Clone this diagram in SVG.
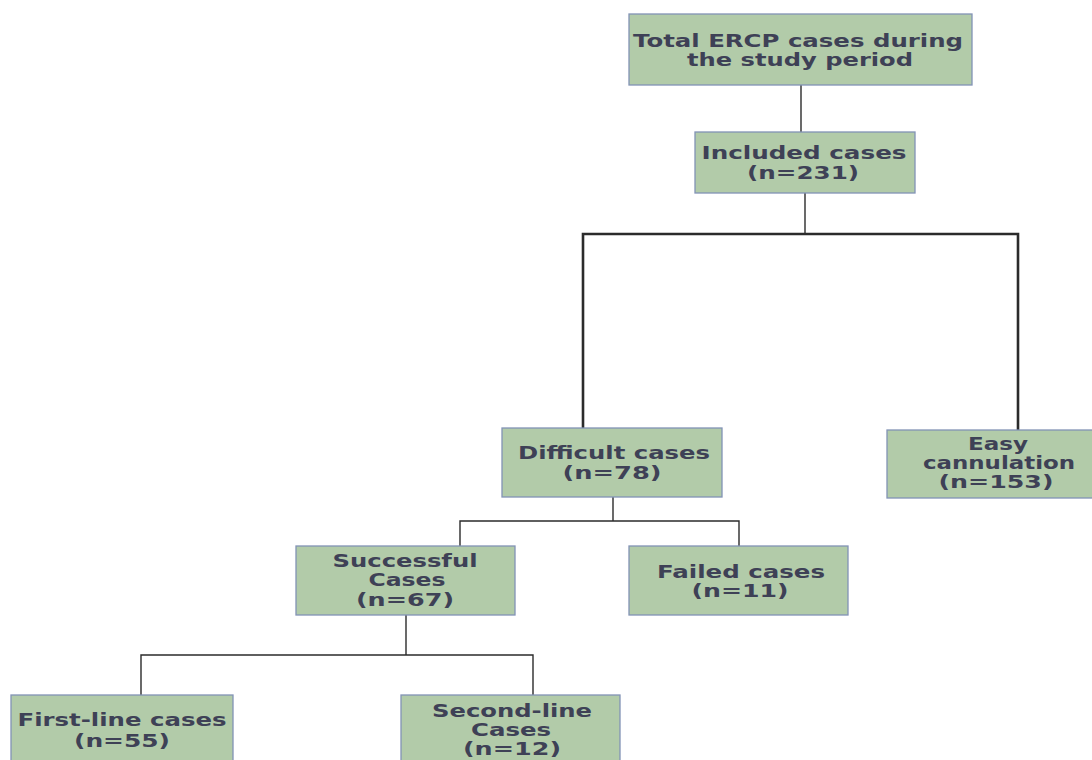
<svg xmlns="http://www.w3.org/2000/svg" width="1092" height="760" viewBox="0 0 1092 760">
<style>
.box{fill:#b2cba9;stroke:#8293b5;stroke-width:1.3}
.t{font-family:"DejaVu Sans",Verdana,sans-serif;font-weight:bold;font-size:17px;fill:#3e4156;text-anchor:middle}
.c{fill:none;stroke:#2b2b2b;stroke-width:1.4}
.ct{fill:none;stroke:#2b2b2b;stroke-width:2.6}
</style>
<rect width="1092" height="760" fill="#ffffff"/>
<g id="connectors">
<line class="c" x1="801" y1="85" x2="801" y2="132"/>
<line class="c" x1="805" y1="193" x2="805" y2="234"/>
<polyline class="ct" points="583,428 583,234 1018,234 1018,430"/>
<line class="c" x1="613" y1="497" x2="613" y2="521"/>
<polyline class="c" points="460,546 460,521 739,521 739,546"/>
<line class="c" x1="406" y1="615" x2="406" y2="655"/>
<polyline class="c" points="141,695 141,655 533,655 533,695"/>
</g>
<g id="total">
<rect class="box" x="629" y="14" width="343" height="71"/>
<text class="t" x="798" y="47" textLength="330" lengthAdjust="spacingAndGlyphs">Total ERCP cases during</text>
<text class="t" x="800" y="66" textLength="226" lengthAdjust="spacingAndGlyphs">the study period</text>
</g>
<g id="included">
<rect class="box" x="695" y="132" width="220" height="61"/>
<text class="t" x="804" y="159" textLength="205" lengthAdjust="spacingAndGlyphs">Included cases</text>
<text class="t" x="803" y="179" textLength="112" lengthAdjust="spacingAndGlyphs">(n=231)</text>
</g>
<g id="difficult">
<rect class="box" x="502" y="428" width="220" height="69"/>
<text class="t" x="614" y="459" textLength="192" lengthAdjust="spacingAndGlyphs">Difficult cases</text>
<text class="t" x="612" y="479" textLength="99" lengthAdjust="spacingAndGlyphs">(n=78)</text>
</g>
<g id="easy">
<rect class="box" x="887" y="430" width="210" height="68"/>
<text class="t" x="998" y="450" textLength="60" lengthAdjust="spacingAndGlyphs">Easy</text>
<text class="t" x="999" y="469" textLength="152" lengthAdjust="spacingAndGlyphs">cannulation</text>
<text class="t" x="996" y="488" textLength="115" lengthAdjust="spacingAndGlyphs">(n=153)</text>
</g>
<g id="successful">
<rect class="box" x="296" y="546" width="219" height="69"/>
<text class="t" x="405" y="567" textLength="145" lengthAdjust="spacingAndGlyphs">Successful</text>
<text class="t" x="407" y="586" textLength="77" lengthAdjust="spacingAndGlyphs">Cases</text>
<text class="t" x="405" y="606" textLength="98" lengthAdjust="spacingAndGlyphs">(n=67)</text>
</g>
<g id="failed">
<rect class="box" x="629" y="546" width="219" height="69"/>
<text class="t" x="741" y="578" textLength="168" lengthAdjust="spacingAndGlyphs">Failed cases</text>
<text class="t" x="740" y="597" textLength="97" lengthAdjust="spacingAndGlyphs">(n=11)</text>
</g>
<g id="firstline">
<rect class="box" x="11" y="695" width="222" height="70"/>
<text class="t" x="122" y="726" textLength="209" lengthAdjust="spacingAndGlyphs">First-line cases</text>
<text class="t" x="122" y="747" textLength="96" lengthAdjust="spacingAndGlyphs">(n=55)</text>
</g>
<g id="secondline">
<rect class="box" x="401" y="695" width="219" height="70"/>
<text class="t" x="512" y="717" textLength="160" lengthAdjust="spacingAndGlyphs">Second-line</text>
<text class="t" x="511" y="736" textLength="80" lengthAdjust="spacingAndGlyphs">Cases</text>
<text class="t" x="512" y="755" textLength="98" lengthAdjust="spacingAndGlyphs">(n=12)</text>
</g>
</svg>
